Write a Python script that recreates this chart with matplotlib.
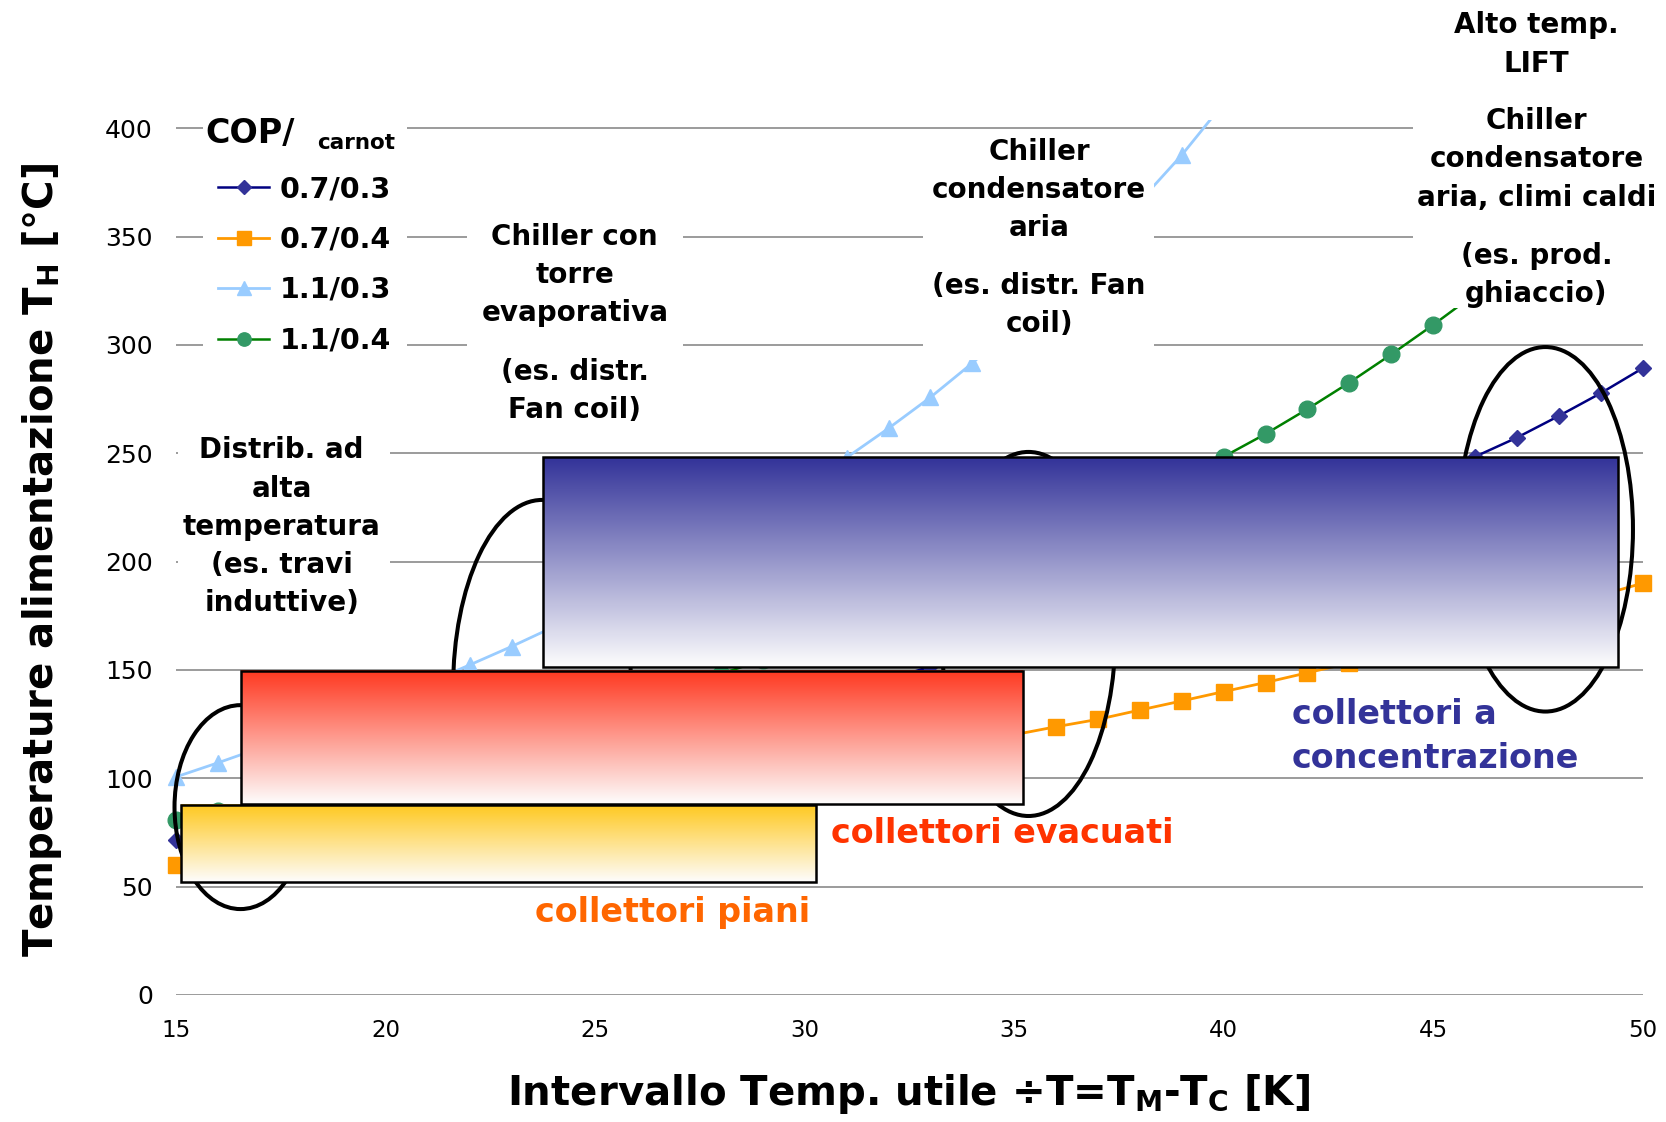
import numpy as np
import matplotlib
matplotlib.use("Agg")
import matplotlib.pyplot as plt
from matplotlib import font_manager
from matplotlib.colors import LinearSegmentedColormap
from matplotlib.lines import Line2D
from matplotlib.patches import Ellipse, Rectangle
from matplotlib.transforms import Affine2D, Bbox, TransformedBbox

# --- data --------------------------------------------------------------
delta_t = list(range(15, 51))
th_07_03 = [71.5, 74.3, 77.3, 80.5, 83.9, 87.5, 91.3, 95.2, 99.4, 103.7,
            108.3, 113.0, 117.9, 123.0, 128.4, 133.9, 139.6, 145.5, 151.6, 157.8,
            164.3, 171.0, 177.8, 184.9, 192.1, 199.6, 207.2, 215.0, 223.0, 231.3,
            239.7, 248.4, 257.2, 267.2, 277.7, 289.2]
th_07_04 = [60.0, 62.4, 64.8, 67.3, 69.8, 72.4, 75.1, 77.9, 80.7, 83.6,
            86.6, 89.6, 92.7, 95.9, 99.2, 102.5, 105.9, 109.3, 112.9, 116.5,
            120.1, 123.8, 127.2, 131.5, 135.7, 140.0, 144.2, 148.7, 153.2, 158.0,
            163.0, 168.2, 173.5, 179.0, 184.5, 190.0]
th_11_03 = [100.7, 107.2, 114.0, 121.0, 128.3, 136.0, 144.0, 152.3, 160.8, 169.8,
            179.3, 189.3, 199.8, 210.9, 222.6, 235.0, 248.0, 261.5, 275.8, 291.6,
            308.5, 326.5, 345.8, 366.3, 387.6, 411.5]
th_11_04 = [80.8, 84.9, 89.2, 93.6, 98.2, 102.9, 107.9, 113.0, 118.3, 123.8,
            129.6, 135.5, 141.7, 148.1, 154.7, 161.6, 168.8, 176.2, 183.9, 191.9,
            200.2, 208.8, 217.7, 228.0, 237.8, 248.4, 258.9, 270.4, 282.6, 295.6,
            309.2, 323.5, 338.5, 354.5, 371.5, 389.5]
series_labels = ["0.7/0.3", "0.7/0.4", "1.1/0.3", "1.1/0.4"]

# collector ranges (delta T span, T_H span)
collector_labels = ["collettori piani", "collettori evacuati", "collettori a\nconcentrazione"]
collector_dt = [(15.1, 30.27), (16.55, 35.21), (23.76, 49.41)]
collector_th = [(52.1, 87.8), (88.0, 149.7), (151.4, 248.2)]

# application zones (ellipses): centre and size in data units
zone_centers = [(16.53, 86.7), (23.73, 141.7), (35.34, 166.6), (47.68, 214.9)]
zone_sizes = [(3.15, 94.1), (4.25, 173.5), (4.15, 168.0), (4.18, 168.2)]

y_ticks = list(range(0, 401, 50))
x_ticks = list(range(15, 51, 5))

W, H = 1666, 1122

# fonts
names = {f.name for f in font_manager.fontManager.ttflist}
narrow = "Liberation Sans Narrow" in names
plt.rcParams["font.family"] = ["DejaVu Sans"]
plt.rcParams["mathtext.fontset"] = "custom"
plt.rcParams["mathtext.rm"] = "DejaVu Sans"
plt.rcParams["mathtext.bf"] = "DejaVu Sans:bold"
plt.rcParams["mathtext.sf"] = ("Liberation Sans Narrow:bold" if narrow
                               else "DejaVu Sans:bold")

fig = plt.figure(figsize=(W / 100, H / 100), dpi=100)
ax = fig.add_axes([176.4 / W, 1 - 995 / H, (1642.6 - 176.4) / W, (995 - 119.5) / H])
px = Affine2D().scale(1 / W, -1 / H).translate(0, 1) + fig.transFigure

# --- series -------------------------------------------------------------
styles = [
    dict(color="#000080", marker="D", ms=8.5, mfc="#333399", mec="#333399", lw=1.8),
    dict(color="#ff9900", marker="s", ms=12, mfc="#ff9900", mec="#ff9900", lw=2.0),
    dict(color="#99ccff", marker="^", ms=12, mfc="#99ccff", mec="#99ccff", lw=2.0),
    dict(color="#008000", marker="o", ms=12, mfc="#339966", mec="#339966", lw=1.8),
]
clip = TransformedBbox(Bbox([[-0.03, -0.05], [1.03, 1.0]]), ax.transAxes)
all_series = [th_07_03, th_07_04, th_11_03, th_11_04]
for vals, st in zip(all_series, styles):
    (ln,) = ax.plot(delta_t[:len(vals)], vals, zorder=3, **st)
    ln.set_clip_box(clip)

# --- zones and collector boxes --------------------------------------------
for (cx, cy), (w, h) in zip(zone_centers, zone_sizes):
    ax.add_patch(Ellipse((cx, cy), w, h, fill=False, ec="black", lw=2.9,
                         zorder=4, clip_on=False))

box_colors = ["#ffc81e", "#ff3820", "#333399"]
grad = np.linspace(0, 1, 256).reshape(-1, 1)
for (x0, x1), (y0, y1), c in zip(collector_dt, collector_th, box_colors):
    cmap = LinearSegmentedColormap.from_list("g", ["#fdfdfd", c])
    ax.imshow(grad, cmap=cmap, extent=[x0, x1, y0, y1], origin="lower",
              aspect="auto", zorder=5, interpolation="bilinear")
    ax.add_patch(Rectangle((x0, y0), x1 - x0, y1 - y0, fill=False,
                           ec="black", lw=1.8, zorder=5.1))

ax.set_xlim(15, 50)
ax.set_ylim(0, 404)
ax.set_xticks(x_ticks)
ax.set_yticks(y_ticks)
ax.tick_params(axis="y", length=0, pad=17, labelsize=18)
ax.tick_params(axis="x", length=0, pad=17, labelsize=16.5)
for s in ["top", "right", "left", "bottom"]:
    ax.spines[s].set_visible(False)
ax.grid(axis="y", color="#808080", lw=1.1)
ax.grid(axis="x", visible=False)
ax.set_axisbelow(True)

# --- white boxes behind the notes -----------------------------------------
covers = [(203, 100, 407, 365), (178, 428, 390, 632), (467, 212, 683, 432),
          (923, 135, 1154, 360), (1413, 95, 1660, 308)]
for x0, y0, x1, y1 in covers:
    ax.add_patch(Rectangle((x0, y0), x1 - x0, y1 - y0, transform=px, fc="white",
                           ec="none", zorder=7, clip_on=False))


def note(x, y, lines, size=20, color="black", pitch=38.25, ha="center"):
    for i, line in enumerate(lines):
        ax.text(x, y + i * pitch, line, transform=px, ha=ha, va="baseline",
                fontsize=size, fontweight="bold", color=color, zorder=8,
                clip_on=False)


note(281.6, 458.4, ["Distrib. ad", "alta", "temperatura", "(es. travi", "induttive)"])
note(574.8, 244.8, ["Chiller con", "torre", "evaporativa"])
note(574.8, 379.8, ["(es. distr.", "Fan coil)"])
note(1039.1, 159.8, ["Chiller", "condensatore", "aria"])
note(1039.1, 293.7, ["(es. distr. Fan", "coil)"])
note(1536.4, 33.4, ["Alto temp.", "LIFT"])
note(1536.4, 129.0, ["Chiller", "condensatore", "aria, climi caldi"])
note(1536.4, 263.9, ["(es. prod.", "ghiaccio)"])

note(672.6, 922, [collector_labels[0]], size=24, color="#ff6600")
note(1002, 843.5, [collector_labels[1]], size=24, color="#ff3300")
note(1292, 724, collector_labels[2].split("\n"), size=24, color="#333399",
     pitch=44.5, ha="left")

# --- legend ---------------------------------------------------------------
note(205, 143, ["COP/"], size=24, ha="left")
note(317, 149, ["carnot"], size=15.5, ha="left")
handles = [Line2D([], [], color=st["color"], marker=st["marker"], mfc=st["mfc"],
                  mec=st["mec"], lw=st["lw"], ms=st["ms"] * 0.8) for st in styles]
leg = ax.legend(handles, series_labels, loc="upper left",
                bbox_to_anchor=(218 / W, 1 - 175 / H), bbox_transform=fig.transFigure,
                prop={"weight": "bold", "size": 20.5},
                frameon=False, borderpad=0, labelspacing=0.79,
                handlelength=1.8, handletextpad=0.37, borderaxespad=0)
leg.set_zorder(9)

# --- axis titles ------------------------------------------------------------
fig.text(908 / W, 1 - 1094 / H, r"Intervallo Temp. utile ÷T=T$_\mathbf{M}$-T$_\mathbf{C}$ [K]",
         ha="center", va="center", fontsize=29, fontweight="bold")
if narrow:
    fig.text(42.5 / W, 1 - 560 / H, r"Temperature alimentazione T$_\mathsf{H}$ [°C]",
             ha="center", va="center", rotation=90, fontsize=42, fontweight="bold",
             family="Liberation Sans Narrow")
else:
    fig.text(42.5 / W, 1 - 560 / H, r"Temperature alimentazione T$_\mathsf{H}$ [°C]",
             ha="center", va="center", rotation=90, fontsize=29, fontweight="bold")

fig.savefig("out.png", dpi=100)
